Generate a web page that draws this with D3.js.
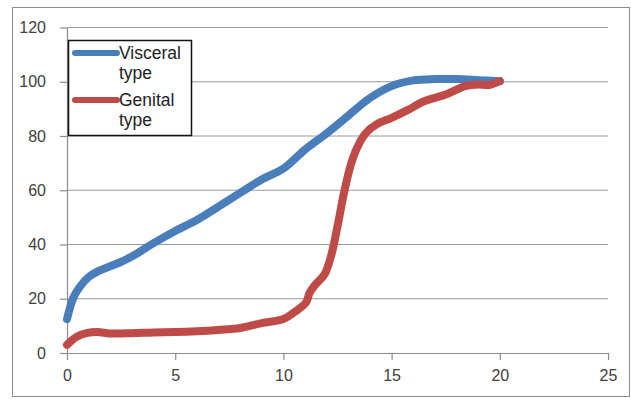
<!DOCTYPE html>
<html>
<head>
<meta charset="utf-8">
<script src="https://d3js.org/d3.v7.min.js"></script>
<style>
  body { margin: 0; background: #fff; }
  svg text { font-family: "Liberation Sans", Arial, sans-serif; }
</style>
</head>
<body>
<div id="chart-area"></div>
<script>
// values
var visceralX = [0, 0.3, 0.6, 1, 1.4, 2, 2.6, 3.2, 4, 5, 6, 7, 8, 9, 10, 11, 12, 13, 14, 15, 16, 17, 18, 19, 20]
var visceralY = [12.5, 20.5, 24.5, 28, 30, 32, 34, 36.5, 40.5, 45, 49, 54, 59, 64, 68, 75, 81, 87.5, 94, 98.4, 100.5, 101, 101, 100.6, 100.2]

var genitalX = [0, 0.45, 0.95, 1.4, 2, 3, 4, 5, 6, 7, 8, 9, 10, 10.5, 11.05, 11.2, 11.45, 11.9, 12.2, 12.5, 12.8, 13.1, 13.4, 13.8, 14.3, 15, 15.8, 16.5, 17.5, 18.4, 19, 19.5, 20]
var genitalY = [3, 6, 7.4, 7.7, 7.2, 7.3, 7.6, 7.7, 8, 8.5, 9.2, 11, 12.5, 15, 18.7, 22, 25, 29, 35.7, 46.7, 59, 69, 75.6, 81, 84.3, 86.7, 89.8, 92.8, 95.3, 98.4, 99, 98.8, 100.2]

var xTicks = [0, 5, 10, 15, 20, 25]
var yTicks = [0, 20, 40, 60, 80, 100, 120]

var seriesNames = [["Visceral", "type"], ["Genital", "type"]]
var seriesColors = ["#4a7ebb", "#be4b48"]

var width = 631, height = 401

var svg = d3.select("#chart-area").append("svg")
    .attr("width", width)
    .attr("height", height)

// outer chart border
svg.append("rect")
    .attr("x", 12.5).attr("y", 7.5)
    .attr("width", 617).attr("height", 389)
    .attr("fill", "#fff")
    .attr("stroke", "#8c8c8c")

var x = d3.scaleLinear().domain([0, 25]).range([67, 608])
var y = d3.scaleLinear().domain([0, 120]).range([353, 27.5])

// gridlines
svg.append("g")
    .selectAll("line")
    .data(yTicks.filter(function(d){ return d > 0 }))
    .enter()
    .append("line")
    .attr("x1", x(0)).attr("x2", x(25))
    .attr("y1", function(d){ return y(d) })
    .attr("y2", function(d){ return y(d) })
    .attr("stroke", "#9a9a9a")
    .attr("stroke-width", 1.2)

var xAxis = svg.append("g")
    .attr("transform", "translate(0," + y(0) + ")")
    .call(d3.axisBottom(x).tickValues(xTicks).tickSize(7).tickPadding(10).tickSizeOuter(0))

var yAxis = svg.append("g")
    .attr("transform", "translate(" + x(0) + ",0)")
    .call(d3.axisLeft(y).tickValues(yTicks).tickSize(7).tickPadding(14).tickSizeOuter(0))

;[xAxis, yAxis].forEach(function(g){
    g.select(".domain").attr("stroke", "#8c8c8c").attr("stroke-width", 1.2)
    g.selectAll(".tick line").attr("stroke", "#8c8c8c").attr("stroke-width", 1.2)
    g.selectAll(".tick text")
        .attr("fill", "#404040")
        .style("font-size", "16px")
        .style("font-family", "'Liberation Sans', Arial, sans-serif")
})

var line = d3.line()
    .x(function(d){ return x(d[0]) })
    .y(function(d){ return y(d[1]) })
    .curve(d3.curveCatmullRom.alpha(0.5))

var series = [
    d3.zip(visceralX, visceralY),
    d3.zip(genitalX, genitalY)
]

svg.selectAll(".series")
    .data(series)
    .enter()
    .append("path")
    .attr("class", "series")
    .attr("d", line)
    .attr("fill", "none")
    .attr("stroke", function(d, i){ return seriesColors[i] })
    .attr("stroke-width", 8)
    .attr("stroke-linecap", "round")
    .attr("stroke-linejoin", "round")

// legend
var legend = svg.append("g")
legend.append("rect")
    .attr("x", 68.5).attr("y", 40.5)
    .attr("width", 123).attr("height", 95)
    .attr("fill", "#fff")
    .attr("stroke", "#111")
    .attr("stroke-width", 1.5)

var items = legend.selectAll(".item")
    .data(seriesNames)
    .enter()
    .append("g")
    .attr("transform", function(d, i){ return "translate(0," + (i * 47) + ")" })

items.append("line")
    .attr("x1", 75).attr("x2", 117)
    .attr("y1", 53).attr("y2", 53)
    .attr("stroke", function(d, i){ return seriesColors[i] })
    .attr("stroke-width", 6)
    .attr("stroke-linecap", "round")

items.append("text")
    .attr("x", 119).attr("y", 59)
    .attr("fill", "#222")
    .style("font-size", "17.5px")
    .text(function(d){ return d[0] })

items.append("text")
    .attr("x", 119).attr("y", 79)
    .attr("fill", "#222")
    .style("font-size", "17.5px")
    .text(function(d){ return d[1] })
</script>
</body>
</html>
